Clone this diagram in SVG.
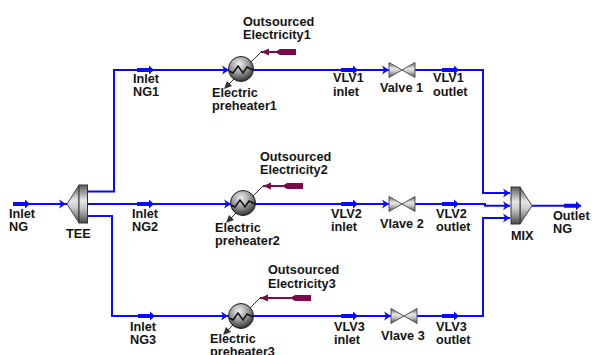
<svg xmlns="http://www.w3.org/2000/svg" width="592" height="355" viewBox="0 0 592 355">
<style>
text{font-family:"Liberation Sans",Arial,sans-serif;font-size:12.700px;font-weight:700;fill:#141414}
.s{fill:none;stroke:#0a0aff;stroke-width:2}
.e{fill:none;stroke:#7a0a4a;stroke-width:2}
.t{fill:none;stroke:#333;stroke-width:1}
</style>
<defs>
<linearGradient id="v" x1="0" y1="0" x2="0" y2="1"><stop offset="0" stop-color="#5a5a5a"/><stop offset=".4" stop-color="#e6e6e6"/><stop offset=".6" stop-color="#c8c8c8"/><stop offset="1" stop-color="#4a4a4a"/></linearGradient>
<radialGradient id="b" cx=".42" cy=".3" r=".75"><stop offset="0" stop-color="#f0f0f0"/><stop offset=".5" stop-color="#999"/><stop offset="1" stop-color="#222"/></radialGradient>
<g id="ba"><path d="M-17-2H-5V-4.500L0 0-5 4.500V2H-17Z" fill="#0a0aff"/></g>
<g id="sa"><path d="M-7-4.500L0 0-7 4.500-5 0Z" fill="#0a0aff"/></g>
<g id="hx">
<circle r="12.500" fill="url(#b)" stroke="#222"/>
<path d="M-12 2L-8 4-3-3 2 4 6-2 12 1" fill="none" stroke="#111" stroke-width="1.500"/>
</g>
<g id="vl"><path d="M-13-7.500L13 7.500V-7.500L-13 7.500Z" fill="url(#v)" stroke="#555"/></g>
</defs>
<g id="connectors">
<path class="s" d="M13 204H67"/>
<path class="s" d="M87 191.500H114V70H230"/>
<path class="s" d="M87 204H232"/>
<path class="s" d="M87 216H112V316H229"/>
<path class="s" d="M253 70H389"/>
<path class="s" d="M255 204H389"/>
<path class="s" d="M252 316H391"/>
<path class="s" d="M415 70H483V193H510"/>
<path class="s" d="M415 204H485V205.700H510"/>
<path class="s" d="M417 316H483V218H510"/>
<path class="s" d="M532 205.700H581"/>
<use href="#ba" x="30" y="204"/><use href="#sa" x="66" y="204"/>
<use href="#ba" x="154" y="70"/><use href="#ba" x="154" y="204"/><use href="#ba" x="155" y="316"/>
<use href="#sa" x="229" y="70"/><use href="#sa" x="231" y="204"/><use href="#sa" x="228" y="316"/>
<use href="#ba" x="358" y="70"/><use href="#ba" x="358" y="204"/><use href="#ba" x="358" y="316"/>
<use href="#sa" x="389" y="70"/><use href="#sa" x="389" y="204"/><use href="#sa" x="391" y="316"/>
<use href="#ba" x="459" y="70"/><use href="#ba" x="459" y="204"/><use href="#ba" x="459" y="316"/>
<use href="#sa" x="510" y="193"/><use href="#sa" x="510" y="205.700"/><use href="#sa" x="510" y="218"/>
<use href="#ba" x="581" y="205.700"/>
<path class="e" d="M261 52H296"/><path d="M280 49H296V55H280L275 52Z" fill="#7a0a4a"/><path d="M261 52L269 48.500V55.500Z" fill="#7a0a4a"/>
<path class="e" d="M263 186H303"/><path d="M287 183H303V189H287L282 186Z" fill="#7a0a4a"/><path d="M263 186L271 182.500V189.500Z" fill="#7a0a4a"/>
<path class="e" d="M260 298H311"/><path d="M295 295H311V301H295L290 298Z" fill="#7a0a4a"/><path d="M260 298L268 294.500V301.500Z" fill="#7a0a4a"/>
<path class="t" d="M261 52L226 87"/><path d="M224 89L227 81 232 86Z" fill="#333"/>
<path class="t" d="M263 186L228 221"/><path d="M226 223L229 215 234 220Z" fill="#333"/>
<path class="t" d="M260 298L225 333"/><path d="M223 335L226 327 231 332Z" fill="#333"/>
</g>
<g id="tee"><path d="M79 185L67 204 79 223Z" fill="url(#v)" stroke="#444"/><rect x="79" y="185" width="8.500" height="38" fill="url(#v)" stroke="#333"/><text x="66" y="238">TEE</text></g>
<g id="mix"><path d="M520 187L532 205.700 520 224Z" fill="url(#v)" stroke="#444"/><rect x="511" y="187" width="9" height="37" fill="url(#v)" stroke="#333"/><text x="511" y="240">MIX</text></g>
<g id="heater1"><use href="#hx" x="241" y="69"/></g>
<g id="heater2"><use href="#hx" x="243" y="203"/></g>
<g id="heater3"><use href="#hx" x="241" y="316"/></g>
<g id="valve1"><use href="#vl" x="402" y="70"/><text x="380" y="92">Valve 1</text></g>
<g id="valve2"><use href="#vl" x="402" y="204"/><text x="380" y="228">Vlave 2</text></g>
<g id="valve3"><use href="#vl" x="404" y="316"/><text x="381" y="340">Vlave 3</text></g>
<g id="labels">
<text x="9" y="218">Inlet</text><text x="9" y="231">NG</text>
<text x="133" y="83">Inlet</text><text x="133" y="96">NG1</text>
<text x="132" y="218">Inlet</text><text x="132" y="231">NG2</text>
<text x="130" y="331">Inlet</text><text x="130" y="344">NG3</text>
<text x="243" y="26">Outsourced</text><text x="243" y="39">Electricity1</text>
<text x="260" y="161">Outsourced</text><text x="260" y="174">Electricity2</text>
<text x="268" y="274">Outsourced</text><text x="268" y="288">Electricity3</text>
<text x="212" y="97">Electric</text><text x="212" y="110">preheater1</text>
<text x="215" y="232">Electric</text><text x="215" y="245">preheater2</text>
<text x="210" y="343">Electric</text><text x="210" y="356">preheater3</text>
<text x="333" y="82">VLV1</text><text x="333" y="96">inlet</text>
<text x="331" y="218">VLV2</text><text x="331" y="231">inlet</text>
<text x="334" y="331">VLV3</text><text x="334" y="344">inlet</text>
<text x="433" y="82">VLV1</text><text x="433" y="96">outlet</text>
<text x="436" y="218">VLV2</text><text x="436" y="231">outlet</text>
<text x="436" y="331">VLV3</text><text x="436" y="344">outlet</text>
<text x="553" y="220">Outlet</text><text x="553" y="233">NG</text>
</g>
</svg>
